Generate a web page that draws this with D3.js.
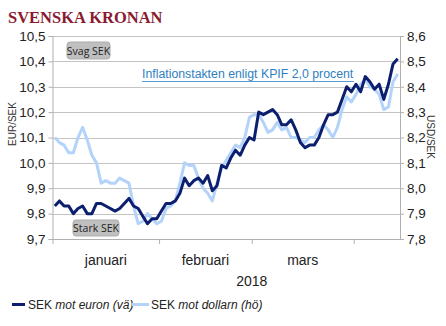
<!DOCTYPE html>
<html><head><meta charset="utf-8">
<script src="https://cdn.jsdelivr.net/npm/d3@7"></script>
<style>
html,body{margin:0;padding:0;background:#fff;}
svg{display:block;}
</style></head>
<body>
<svg id="chart" width="446" height="326"></svg>
<script>
// ---- data ----
const months = ["januari", "februari", "mars"];
const monthStart = [0, 23, 43, 65];   // business-day index where each month starts
const nDays = 75;
const eurSek = [9.83, 9.85, 9.83, 9.83, 9.80, 9.82, 9.83, 9.80, 9.80, 9.84,
  9.84, 9.83, 9.82, 9.81, 9.82, 9.84, 9.86, 9.83, 9.82, 9.79,
  9.76, 9.78, 9.78, 9.81, 9.84, 9.84, 9.85, 9.88, 9.94, 9.91,
  9.93, 9.94, 9.92, 9.95, 9.89, 9.91, 9.99, 9.98, 10.02, 10.05,
  10.03, 10.07, 10.10, 10.09, 10.20, 10.19, 10.20, 10.21, 10.19, 10.15,
  10.15, 10.17, 10.13, 10.08, 10.06, 10.07, 10.07, 10.10, 10.15, 10.19,
  10.19, 10.20, 10.25, 10.30, 10.28, 10.31, 10.28, 10.34, 10.32, 10.29,
  10.31, 10.25, 10.31, 10.39, 10.41];
const usdSek = [8.20, 8.18, 8.17, 8.14, 8.14, 8.20, 8.24, 8.19, 8.13, 8.10,
  8.02, 8.03, 8.02, 8.02, 8.04, 8.03, 8.02, 7.93, 7.86, 7.87,
  7.90, 7.88, 7.86, 7.87, 7.92, 7.93, 7.95, 8.02, 8.10, 8.09,
  8.09, 8.04, 8.00, 7.98, 7.95, 8.02, 8.08, 8.11, 8.14, 8.17,
  8.16, 8.20, 8.28, 8.29, 8.29, 8.26, 8.22, 8.23, 8.26, 8.23,
  8.24, 8.20, 8.20, 8.19, 8.18, 8.20, 8.20, 8.23, 8.25, 8.23,
  8.20, 8.24, 8.31, 8.36, 8.34, 8.37, 8.41, 8.43, 8.40, 8.39,
  8.37, 8.31, 8.32, 8.42, 8.45];
const leftTicks = [9.7, 9.8, 9.9, 10.0, 10.1, 10.2, 10.3, 10.4, 10.5];
const rightTicks = [7.8, 7.9, 8.0, 8.1, 8.2, 8.3, 8.4, 8.5, 8.6];
const title = "SVENSKA KRONAN";
const yearLabel = "2018";
const annotation = "Inflationstakten enligt KPIF 2,0 procent";
const seriesNames = [["SEK", " mot euron (vä)"], ["SEK", " mot dollarn (hö)"]];

// ---- layout ----
const L = 52.5, R = 400, T = 36, B = 239;
const darkC = "#0c1f6e", lightC = "#b3d3fa";
const svg = d3.select("#chart");
const font = "'Liberation Sans', Arial, sans-serif";
const sv = d3.formatLocale({decimal: ",", thousands: " ", grouping: [3], currency: ["", ""]});
const fmt = sv.format(".1f");

const x = d3.scaleLinear().domain([0, nDays]).range([L, R]);
const yL = d3.scaleLinear().domain([9.7, 10.5]).range([B, T]);
const yR = d3.scaleLinear().domain([7.8, 8.6]).range([B, T]);

// title
svg.append("text").attr("x", 8).attr("y", 23)
  .attr("font-family", "'Liberation Serif', 'Times New Roman', serif")
  .attr("font-weight", "bold").attr("font-size", 16.5).attr("fill", "#8a1a30")
  .text(title);

// gridlines
svg.append("g").selectAll("line").data(leftTicks).join("line")
  .attr("x1", L).attr("x2", R)
  .attr("y1", d => Math.round(yL(d)) + 0.5).attr("y2", d => Math.round(yL(d)) + 0.5)
  .attr("stroke", "#c4c4c4").attr("stroke-width", 1);

// left axis
const gl = svg.append("g").attr("transform", `translate(${L},0)`)
  .call(d3.axisLeft(yL).tickValues(leftTicks).tickFormat(fmt).tickSize(4).tickPadding(3));
gl.selectAll("text").attr("font-family", font).attr("font-size", 13.5).attr("fill", "#222");
gl.selectAll("line,path").attr("stroke", "#b0b0b0");

// right axis
const gr = svg.append("g").attr("transform", `translate(${R},0)`)
  .call(d3.axisRight(yR).tickValues(rightTicks).tickFormat(fmt).tickSize(4).tickPadding(3));
gr.selectAll("text").attr("font-family", font).attr("font-size", 13.5).attr("fill", "#222");
gr.selectAll("line,path").attr("stroke", "#b0b0b0");

// bottom axis
const gb = svg.append("g").attr("transform", `translate(0,${B})`)
  .call(d3.axisBottom(x).tickValues(monthStart).tickFormat("").tickSize(5).tickSizeOuter(0));
gb.selectAll("line,path").attr("stroke", "#b0b0b0");

// month labels
svg.append("g").selectAll("text").data(months).join("text")
  .attr("x", (d, i) => x((monthStart[i] + monthStart[i + 1]) / 2))
  .attr("y", 265).attr("text-anchor", "middle")
  .attr("font-family", font).attr("font-size", 14).attr("fill", "#222")
  .text(d => d);
svg.append("text").attr("x", x(monthStart[2])).attr("y", 286).attr("text-anchor", "middle")
  .attr("font-family", font).attr("font-size", 14).attr("fill", "#222").text(yearLabel);

// axis titles
svg.append("text").attr("transform", "translate(16,124) rotate(-90)").attr("text-anchor", "middle")
  .attr("font-family", font).attr("font-size", 10).attr("fill", "#333").text("EUR/SEK");
svg.append("text").attr("transform", "translate(427,137) rotate(90)").attr("text-anchor", "middle")
  .attr("font-family", font).attr("font-size", 10).attr("fill", "#333").text("USD/SEK");

// lines
const lineL = d3.line().x((d, i) => x(i + 0.5)).y(d => yL(d));
const lineR = d3.line().x((d, i) => x(i + 0.5)).y(d => yR(d));
svg.append("path").datum(usdSek).attr("d", lineR).attr("fill", "none")
  .attr("stroke", lightC).attr("stroke-width", 3).attr("stroke-linejoin", "round");
svg.append("path").datum(eurSek).attr("d", lineL).attr("fill", "none")
  .attr("stroke", darkC).attr("stroke-width", 3).attr("stroke-linejoin", "round");

// labels in boxes
function box(cx, cy, w, h, label) {
  svg.append("rect").attr("x", cx - w / 2).attr("y", cy - h / 2).attr("width", w).attr("height", h)
    .attr("rx", 3).attr("fill", "#bfbfbf").attr("stroke", "#adadad");
  svg.append("text").attr("x", cx).attr("y", cy + 4).attr("text-anchor", "middle")
    .attr("font-family", "'Open Sans', sans-serif").attr("font-size", 10.5).attr("fill", "#222").text(label);
}
box(88.5, 50.5, 43, 17, "Svag SEK");
box(96, 228, 46, 16, "Stark SEK");

// annotation
svg.append("text").attr("x", 142).attr("y", 78)
  .attr("font-family", font).attr("font-size", 12.3).attr("fill", "#2f7fbf").text(annotation);
svg.append("line").attr("x1", 142).attr("x2", 354).attr("y1", 81.5).attr("y2", 81.5)
  .attr("stroke", "#5b9bd0").attr("stroke-width", 1);

// legend
const lg = svg.append("g");
[[12, 25, 28, darkC], [132, 149, 151, lightC]].forEach((p, i) => {
  lg.append("line").attr("x1", p[0]).attr("x2", p[1]).attr("y1", 304.5).attr("y2", 304.5)
    .attr("stroke", p[3]).attr("stroke-width", 3);
  const t = lg.append("text").attr("x", p[2]).attr("y", 309)
    .attr("font-family", font).attr("font-size", 12).attr("fill", "#222");
  t.append("tspan").text(seriesNames[i][0]);
  t.append("tspan").attr("font-style", "italic").text(seriesNames[i][1]);
});
</script>
</body></html>
